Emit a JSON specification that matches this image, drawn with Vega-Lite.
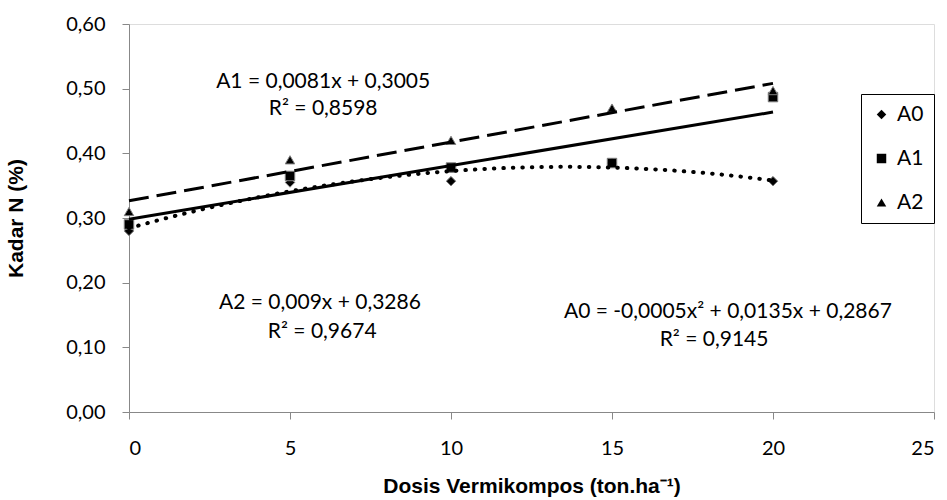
{
  "$schema": "https://vega.github.io/schema/vega-lite/v6.json",
  "width": 805,
  "height": 388,
  "autosize": {"type": "none"},
  "padding": {"left": 129, "top": 24, "right": 13, "bottom": 88},
  "background": "white",
  "datasets": {
    "points": [
      {"dose": 0, "kadar": 0.28, "series": "A0"},
      {"dose": 5, "kadar": 0.355, "series": "A0"},
      {"dose": 10, "kadar": 0.357, "series": "A0"},
      {"dose": 15, "kadar": 0.385, "series": "A0"},
      {"dose": 20, "kadar": 0.357, "series": "A0"},
      {"dose": 0, "kadar": 0.29, "series": "A1"},
      {"dose": 5, "kadar": 0.365, "series": "A1"},
      {"dose": 10, "kadar": 0.378, "series": "A1"},
      {"dose": 15, "kadar": 0.385, "series": "A1"},
      {"dose": 20, "kadar": 0.487, "series": "A1"},
      {"dose": 0, "kadar": 0.31, "series": "A2"},
      {"dose": 5, "kadar": 0.39, "series": "A2"},
      {"dose": 10, "kadar": 0.42, "series": "A2"},
      {"dose": 15, "kadar": 0.47, "series": "A2"},
      {"dose": 20, "kadar": 0.497, "series": "A2"}
    ],
    "labels": [
      {"lx": 6.03, "ly": 0.511, "text": "A1 = 0,0081x + 0,3005"},
      {"lx": 6.03, "ly": 0.469, "text": "R² = 0,8598"},
      {"lx": 5.93, "ly": 0.169, "text": "A2 = 0,009x + 0,3286"},
      {"lx": 6.0, "ly": 0.124, "text": "R² = 0,9674"},
      {"lx": 18.6, "ly": 0.155, "text": "A0 = -0,0005x² + 0,0135x + 0,2867"},
      {"lx": 18.17, "ly": 0.111, "text": "R² = 0,9145"}
    ]
  },
  "layer": [
    {
      "data": {"name": "points"},
      "mark": {"type": "point", "filled": true, "fill": "black", "stroke": "#808080", "strokeWidth": 1, "size": 90, "opacity": 1},
      "encoding": {
        "x": {
          "field": "dose", "type": "quantitative",
          "scale": {"domain": [0, 25], "nice": false, "zero": true},
          "axis": {
            "title": "Dosis Vermikompos (ton.ha⁻¹)",
            "values": [0, 5, 10, 15, 20, 25],
            "grid": false,
            "domainColor": "#888888", "tickColor": "#888888",
            "tickSize": 7, "labelPadding": 19,
            "labelFont": "Lato", "labelFontSize": 20, "labelColor": "black",
            "titleFont": "Liberation Sans", "titleFontSize": 21, "titleFontWeight": "bold", "titleColor": "black",
            "titleY": 63, "titleBaseline": "top"
          }
        },
        "y": {
          "field": "kadar", "type": "quantitative",
          "scale": {"domain": [0, 0.6], "nice": false},
          "axis": {
            "title": "Kadar N (%)",
            "values": [0, 0.1, 0.2, 0.3, 0.4, 0.5, 0.6],
            "labelExpr": "replace(format(datum.value, '.2f'), '.', ',')",
            "grid": false,
            "domainColor": "#888888", "tickColor": "#888888",
            "tickSize": 7, "labelPadding": 17,
            "labelFont": "Lato", "labelFontSize": 20, "labelColor": "black",
            "titleFont": "Liberation Sans", "titleFontSize": 21, "titleFontWeight": "bold", "titleColor": "black",
            "titleX": -103, "titleY": 194
          }
        },
        "shape": {
          "field": "series", "type": "nominal",
          "scale": {"domain": ["A0", "A1", "A2"], "range": ["diamond", "square", "triangle-up"]},
          "legend": {
            "title": null,
            "orient": "none", "legendX": 732, "legendY": 70,
            "strokeColor": "black", "padding": 10,
            "labelFont": "Lato", "labelFontSize": 21, "labelColor": "black",
            "symbolFillColor": "black", "symbolStrokeColor": "#808080", "symbolSize": 90,
            "rowPadding": 22, "labelOffset": 5
          }
        }
      }
    },
    {
      "data": {"name": "points"},
      "transform": [
        {"filter": "datum.series === 'A1'"},
        {"regression": "kadar", "on": "dose", "method": "linear", "extent": [0, 20]}
      ],
      "mark": {"type": "line", "color": "black", "strokeWidth": 3},
      "encoding": {
        "x": {"field": "dose", "type": "quantitative"},
        "y": {"field": "kadar", "type": "quantitative"}
      }
    },
    {
      "data": {"name": "points"},
      "transform": [
        {"filter": "datum.series === 'A2'"},
        {"regression": "kadar", "on": "dose", "method": "linear", "extent": [0, 20]}
      ],
      "mark": {"type": "line", "color": "black", "strokeWidth": 3, "strokeDash": [20, 8]},
      "encoding": {
        "x": {"field": "dose", "type": "quantitative"},
        "y": {"field": "kadar", "type": "quantitative"}
      }
    },
    {
      "data": {"name": "points"},
      "transform": [
        {"filter": "datum.series === 'A0'"},
        {"regression": "kadar", "on": "dose", "method": "poly", "order": 2, "extent": [0, 20]}
      ],
      "mark": {"type": "line", "color": "black", "strokeWidth": 4, "strokeDash": [0.5, 9], "strokeCap": "round", "interpolate": "monotone"},
      "encoding": {
        "x": {"field": "dose", "type": "quantitative"},
        "y": {"field": "kadar", "type": "quantitative"}
      }
    },
    {
      "data": {"name": "labels"},
      "mark": {"type": "text", "font": "Lato", "fontSize": 21, "color": "black", "align": "center", "baseline": "middle"},
      "encoding": {
        "x": {"field": "lx", "type": "quantitative"},
        "y": {"field": "ly", "type": "quantitative"},
        "text": {"field": "text"}
      }
    }
  ]
}
